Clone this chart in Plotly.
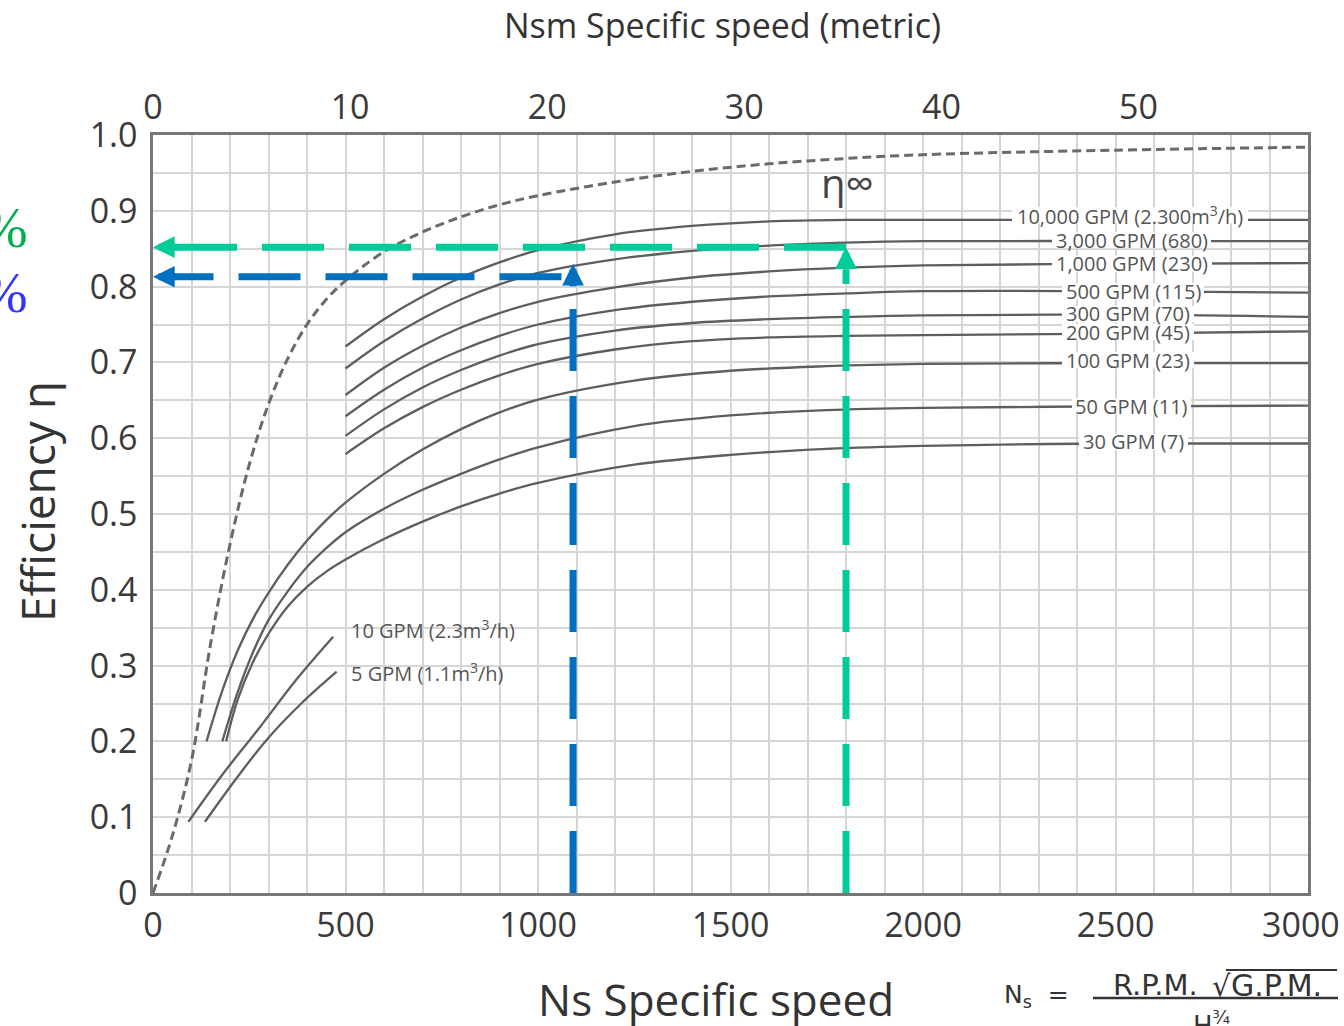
import plotly.graph_objects as go

# ---- data -------------------------------------------------------------
# curves that start at Ns = 500 (GPM flow classes)
ns_upper = [500, 600, 700, 800, 900, 1000, 1200, 1400, 1600, 1800, 2000, 2500, 3000]
eff_10000 = [0.721, 0.757, 0.787, 0.812, 0.832, 0.848, 0.869, 0.880, 0.886, 0.888, 0.888, 0.888, 0.888]
eff_3000 = [0.692, 0.728, 0.758, 0.783, 0.803, 0.818, 0.836, 0.847, 0.854, 0.858, 0.860, 0.860, 0.860]
eff_1000 = [0.657, 0.693, 0.722, 0.746, 0.765, 0.780, 0.799, 0.812, 0.820, 0.825, 0.828, 0.830, 0.831]
eff_500 = [0.629, 0.664, 0.693, 0.716, 0.735, 0.750, 0.769, 0.780, 0.787, 0.791, 0.794, 0.794, 0.792]
eff_300 = [0.603, 0.638, 0.667, 0.690, 0.709, 0.724, 0.742, 0.752, 0.757, 0.760, 0.762, 0.763, 0.760]
eff_200 = [0.579, 0.613, 0.641, 0.664, 0.683, 0.698, 0.717, 0.728, 0.733, 0.735, 0.736, 0.738, 0.741]

# curves that start low on the left
ns_100 = [139, 180, 220, 260, 300, 350, 400, 450, 500, 600, 700, 800, 900, 1000, 1250, 1500, 1750, 2000, 2500, 3000]
eff_100 = [0.200, 0.267, 0.320, 0.362, 0.396, 0.433, 0.465, 0.492, 0.515, 0.553, 0.585, 0.612, 0.634, 0.651,
           0.676, 0.689, 0.695, 0.698, 0.699, 0.699]
ns_50 = [180, 220, 260, 300, 350, 400, 450, 500, 600, 700, 800, 900, 1000, 1250, 1500, 1750, 2000, 2500, 3000]
eff_50 = [0.200, 0.265, 0.318, 0.360, 0.398, 0.430, 0.455, 0.476, 0.507, 0.532, 0.553, 0.572, 0.588, 0.616,
          0.630, 0.637, 0.640, 0.642, 0.643]
ns_30 = [190, 220, 260, 300, 350, 400, 450, 500, 600, 700, 800, 900, 1000, 1250, 1500, 1750, 2000, 2500, 3000]
eff_30 = [0.200, 0.255, 0.305, 0.342, 0.378, 0.404, 0.424, 0.440, 0.467, 0.490, 0.510, 0.527, 0.541, 0.565,
          0.578, 0.586, 0.590, 0.593, 0.593]

# short low-flow lines
ns_10 = [92, 180, 278, 370, 468]
eff_10 = [0.094, 0.156, 0.219, 0.280, 0.338]
ns_5 = [135, 215, 295, 385, 477]
eff_5 = [0.094, 0.150, 0.202, 0.250, 0.292]

# limiting efficiency (dashed)
ns_inf = [0, 50, 100, 150, 200, 250, 300, 350, 400, 450, 500, 600, 700, 800, 900, 1000,
          1200, 1400, 1600, 1800, 2000, 2500, 3000]
eta_inf = [0.0, 0.075, 0.175, 0.330, 0.460, 0.565, 0.645, 0.705, 0.750, 0.783, 0.808, 0.846, 0.872,
           0.892, 0.908, 0.920, 0.938, 0.952, 0.962, 0.969, 0.974, 0.980, 0.984]

curve_labels = ["10,000 GPM (2.300m<sup>3</sup>/h)", "3,000 GPM (680)", "1,000 GPM (230)",
                "500 GPM (115)", "300 GPM (70)", "200 GPM (45)", "100 GPM (23)",
                "50 GPM (11)", "30 GPM (7)"]
label_eff = [0.894, 0.861, 0.830, 0.794, 0.764, 0.740, 0.703, 0.642, 0.595]
# horizontal extent of each label (pixels)
label_left = [1012, 1052, 1052, 1062, 1062, 1062, 1062, 1072, 1079]
label_right = [1248, 1211, 1212, 1204, 1194, 1194, 1194, 1191, 1188]

# worked examples (operating points)
green_ns, green_eta = 1800, 0.852
blue_ns, blue_eta, blue_tip = 1091, 0.813, 0.830

x_ticks = [0, 500, 1000, 1500, 2000, 2500, 3000]
y_ticks = [0, 0.1, 0.2, 0.3, 0.4, 0.5, 0.6, 0.7, 0.8, 0.9, 1.0]
y_tick_text = ["0", "0.1", "0.2", "0.3", "0.4", "0.5", "0.6", "0.7", "0.8", "0.9", "1.0"]
nsm_ticks = [0, 10, 20, 30, 40, 50]
nsm_max = 58.6

# ---- styling ----------------------------------------------------------
W, H = 1344, 1026
PL, PR, PT, PB = 153, 1308, 135, 893
FONT = "Open Sans"
CURVE = "#5e5e5e"
GRID = "#d6d6d6"
GREEN = "#00cc99"
BLUE = "#0070c0"
LABEL = "#555555"


def px_x(p):
    return (p - PL) / (PR - PL)


def px_y(p):
    return (PB - p) / (PB - PT)


fig = go.Figure()


def curve(x, y, width=2.3, dash=None, color=CURVE):
    fig.add_trace(go.Scatter(x=x, y=y, mode="lines",
                             line=dict(color=color, width=width, dash=dash, shape="spline", smoothing=1.0),
                             hoverinfo="skip", showlegend=False))


for e in [eff_10000, eff_3000, eff_1000, eff_500, eff_300, eff_200]:
    curve(ns_upper, e)
curve(ns_100, eff_100)
curve(ns_50, eff_50)
curve(ns_30, eff_30)
curve(ns_10, eff_10)
curve(ns_5, eff_5)
curve(ns_inf, eta_inf, width=3, dash="9px,5px", color="#6a6a6a")

# dashed guide lines
dash_pat = "62px,25px"
for xs, ys, c in [([green_ns, 55], [green_eta, green_eta], GREEN),
                  ([green_ns, green_ns], [0, green_eta - 0.03], GREEN),
                  ([blue_ns - 30, 55], [blue_eta, blue_eta], BLUE),
                  ([blue_ns, blue_ns], [0, blue_tip - 0.03], BLUE)]:
    fig.add_trace(go.Scatter(x=xs, y=ys, mode="lines", line=dict(color=c, width=7, dash=dash_pat),
                             hoverinfo="skip", showlegend=False))

# invisible trace to carry the metric axis
fig.add_trace(go.Scatter(x=[0, nsm_max], y=[0, 0], xaxis="x2", mode="markers",
                         marker=dict(opacity=0), hoverinfo="skip", showlegend=False))

ann = []
shapes = []
# arrow heads
for (x, y, ax, ay, c) in [(0, green_eta, 24, 0, GREEN), (green_ns, green_eta, 0, 24, GREEN),
                          (0, blue_eta, 24, 0, BLUE), (blue_ns, blue_tip, 0, 24, BLUE)]:
    ann.append(dict(x=x, y=y, xref="x", yref="y", ax=ax, ay=ay, axref="pixel", ayref="pixel",
                    text="", showarrow=True, arrowhead=2, arrowsize=0.62, arrowwidth=7,
                    arrowcolor=c, standoff=0))


def text_at(px, py, text, size, color="#333333", family=FONT, xanchor="center", **kw):
    ann.append(dict(x=px_x(px), y=px_y(py), xref="paper", yref="paper", text=text, showarrow=False,
                    xanchor=xanchor, yanchor="middle", font=dict(family=family, size=size, color=color), **kw))


# curve labels: white gap in the line, text on top
for t, y, l, r in zip(curve_labels, label_eff, label_left, label_right):
    py = PB - y * (PB - PT)
    shapes.append(dict(type="rect", xref="paper", yref="paper", layer="above",
                       x0=px_x(l), x1=px_x(r), y0=px_y(py + 8), y1=px_y(py - 8),
                       fillcolor="white", line=dict(width=0)))
    text_at((l + r) / 2, py, t, 20, LABEL)
text_at(349, 629, "10 GPM (2.3m<sup>3</sup>/h)", 20, LABEL, xanchor="left")
text_at(349, 672, "5 GPM (1.1m<sup>3</sup>/h)", 20, LABEL, xanchor="left")
ann.append(dict(x=1805, y=0.937, xref="x", yref="y", text="η∞", showarrow=False,
                xanchor="center", yanchor="middle", font=dict(family=FONT, size=40, color="#444444")))

axis_font = dict(family=FONT, size=34, color="#3a3a3a")

# last bottom tick label, nudged inside the page edge
x_tick_text = [str(v) for v in x_ticks]
last_tick = x_tick_text[-1]
x_tick_text[-1] = ""
text_at(1301, 924, last_tick, 34, "#3a3a3a")

# titles
text_at(722, 25, "Nsm Specific speed (metric)", 34)
text_at(716, 999, "Ns Specific speed", 44)
text_at(37, 502, "Efficiency η", 46, textangle=-90)

# percentage readings at the left edge
text_at(30, 228, "85%", 56, "#00b050", family="Liberation Serif", xanchor="right")
text_at(30, 293, "81%", 56, "#3333ff", family="Liberation Serif", xanchor="right")

# specific speed formula
FORM = "DejaVu Sans"
text_at(1036, 996, "N<sub>s</sub>  =", 25, family=FORM)
text_at(1155, 985, "R.P.M.", 29, family=FORM)
text_at(1221, 986, "√", 29, family=FORM)
text_at(1229, 985, "G.P.M.", 30, family=FORM, xanchor="left")
text_at(1212, 1024, "H<sup>¾</sup>", 26, family=FORM)

shapes += [
    dict(type="line", xref="paper", yref="paper", x0=px_x(1093), x1=px_x(1338), y0=px_y(998), y1=px_y(998),
         line=dict(color="#333333", width=2.5)),
    dict(type="line", xref="paper", yref="paper", x0=px_x(1226), x1=px_x(1337), y0=px_y(970), y1=px_y(970),
         line=dict(color="#333333", width=2)),
]

fig.update_layout(
    width=W, height=H,
    margin=dict(l=PL, r=W - PR, t=PT, b=H - PB),
    paper_bgcolor="white", plot_bgcolor="white",
    annotations=ann, shapes=shapes, showlegend=False,
    xaxis=dict(range=[0, 3000], tickmode="array", tickvals=x_ticks, ticktext=x_tick_text,
               showgrid=True, gridcolor=GRID, gridwidth=2, automargin=False,
               minor=dict(tickmode="linear", tick0=0, dtick=100, showgrid=True, gridcolor=GRID, gridwidth=2),
               showline=True, linecolor="#777777", linewidth=2.5, mirror=True, zeroline=False,
               ticks="", tickfont=axis_font, ticklabelstandoff=0),
    yaxis=dict(range=[0, 1.0], tickmode="array", tickvals=y_ticks, ticktext=y_tick_text,
               showgrid=True, gridcolor=GRID, gridwidth=2, automargin=False,
               minor=dict(tickmode="linear", tick0=0, dtick=0.05, showgrid=True, gridcolor=GRID, gridwidth=2),
               showline=True, linecolor="#777777", linewidth=2.5, mirror=True, zeroline=False,
               ticks="", tickfont=axis_font, ticklabelstandoff=6),
    xaxis2=dict(range=[0, nsm_max], overlaying="x", side="top", tickmode="array", tickvals=nsm_ticks,
                showgrid=False, showline=False, zeroline=False, ticks="", tickfont=axis_font,
                ticklabelstandoff=8, automargin=False),
)

fig.write_html("out.html")
